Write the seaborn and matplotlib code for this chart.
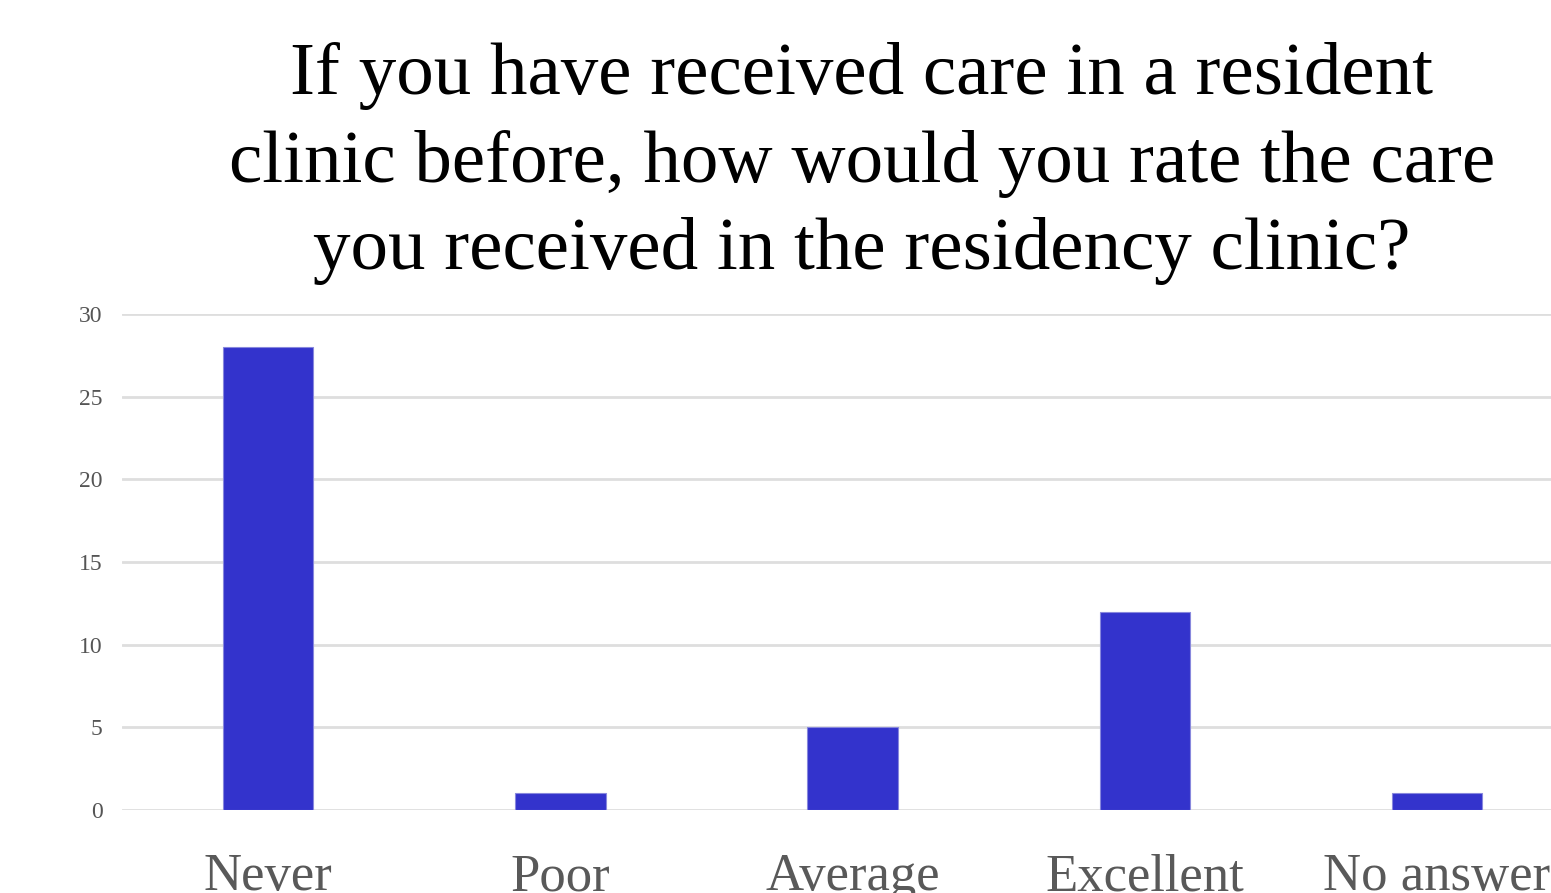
import pandas as pd
import matplotlib
matplotlib.use('Agg')
import matplotlib.pyplot as plt
import seaborn as sns

categories = ['Never', 'Poor', 'Average', 'Excellent', 'No answer']
counts = [28, 1, 5, 12, 1]
yticks = [0, 5, 10, 15, 20, 25, 30]
title = ('If you have received care in a resident\n'
         'clinic before, how would you rate the care\n'
         'you received in the residency clinic?')

df = pd.DataFrame({'category': categories, 'count': counts})

sns.set_style('white')
plt.rcParams['font.family'] = ['Liberation Serif', 'DejaVu Serif']

fig = plt.figure(figsize=(15.51, 8.93), dpi=100)
ax = fig.add_axes([122 / 1551, 83 / 893, 1 - 122 / 1551, 496 / 893])

sns.barplot(data=df, x='category', y='count', color='#3333cc', width=0.31,
            saturation=1, edgecolor='#8888dd', linewidth=0.8, ax=ax, zorder=3)

ax.set_ylim(0, 30)
ax.set_xlim(-0.5, 4.39)
ax.set_yticks(yticks)
ax.set_yticklabels([str(t) for t in yticks])
ax.grid(axis='y', color='#dedede', linewidth=2, zorder=0)
ax.set_axisbelow(True)
sns.despine(ax=ax, top=True, right=True, left=True, bottom=True)
ax.set_xlabel('')
ax.set_ylabel('')
ax.tick_params(axis='y', labelsize=17, colors='#555555', length=0, pad=14)
ax.tick_params(axis='x', labelsize=38, colors='#595959', length=0, pad=31)

fig.text(862 / 1551, 0.953, title, ha='center', va='top', fontsize=54,
         color='black', linespacing=1.38)

fig.savefig('out.png', dpi=100)
